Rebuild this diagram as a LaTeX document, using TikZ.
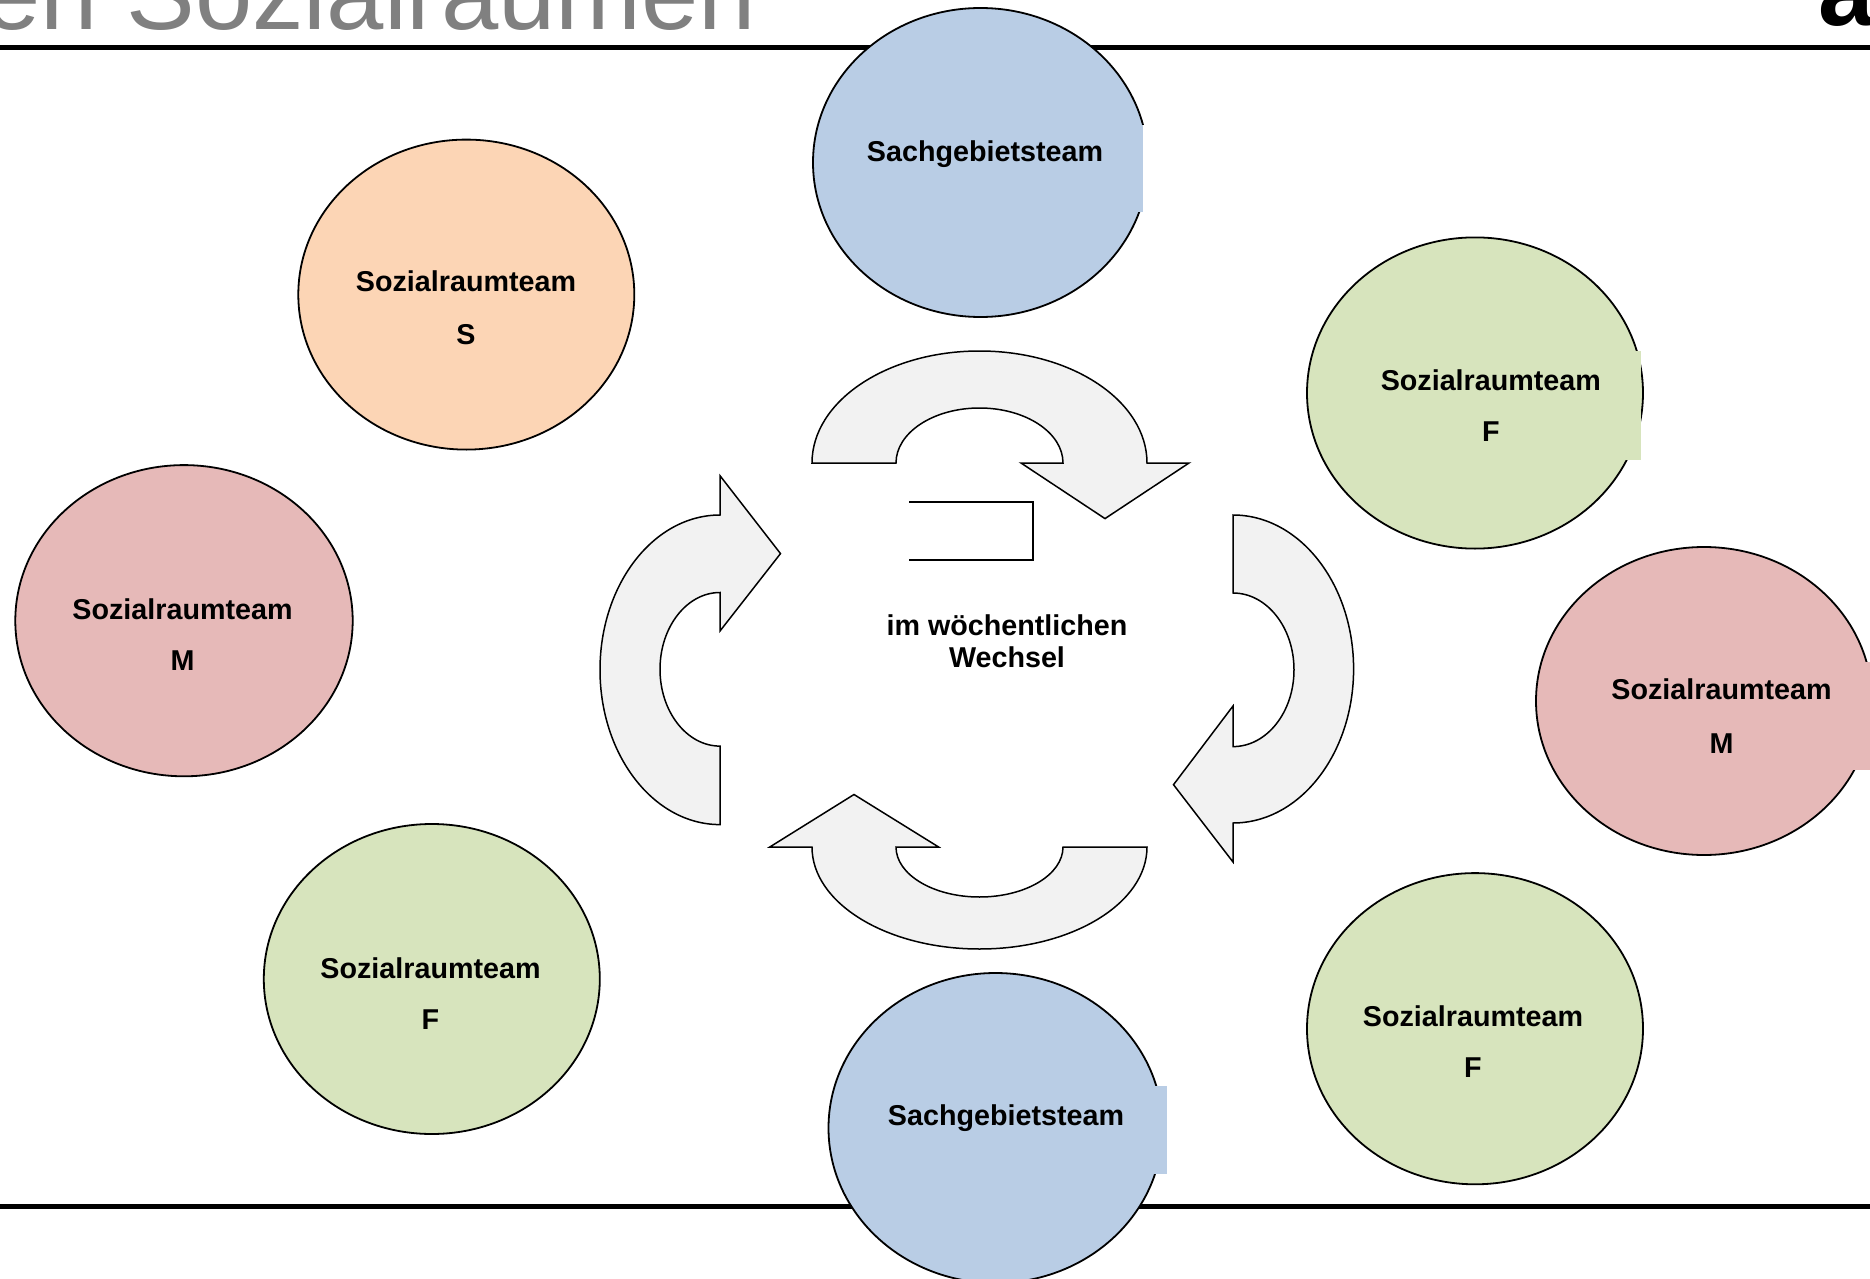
\documentclass[tikz,border=0pt]{standalone}
\usepackage{fontspec}
\setmainfont{Liberation Sans}
\usetikzlibrary{shapes.geometric}
\definecolor{sgblue}{HTML}{B9CDE5}
\definecolor{sorange}{HTML}{FCD5B5}
\definecolor{mpink}{HTML}{E6B9B8}
\definecolor{fgreen}{HTML}{D7E4BD}
\definecolor{arrfill}{HTML}{F2F2F2}
\definecolor{titlegray}{HTML}{808080}
\begin{document}
\begin{tikzpicture}[x=0.5pt,y=-0.5pt,
  team/.style={ellipse, draw=black, line width=0.9pt, minimum width=168pt, minimum height=155pt, inner sep=0pt},
  lbl/.style={font=\fontsize{14.35}{17}\selectfont\bfseries, anchor=base, inner sep=0pt},
  cyc/.style={draw=black, fill=arrfill, line width=0.75pt, line join=miter},
  rulesty/.style={line width=2.5pt}]
\useasboundingbox (0,0) rectangle (1870,1279);
\clip (0,0) rectangle (1870,1279);

% header
\node[anchor=base west, inner sep=0pt, text=titlegray, font=\fontsize{51.5}{60}\selectfont] (title) at (-17,30) {en Sozialräumen};
\node[anchor=base west, inner sep=0pt, font=\fontsize{50}{60}\selectfont\bfseries] (logo) at (1818,26) {a};
\draw[rulesty] (0,47.5) -- (1870,47.5);
\draw[rulesty] (0,1206) -- (1870,1206);

% top Sachgebietsteam
\node[team, fill=sgblue, minimum width=167.5pt, minimum height=154.5pt] (sg1) at (980.5,162.5) {};
\fill[sgblue] (1100,125) rectangle (1143,212);
\fill[white] (1143,125) rectangle (1152,212);
\node[lbl] (sg1t) at (985,162) {Sachgebietsteam};

% Sozialraumteam S
\node[team, fill=sorange] (srS) at (466.3,294.6) {};
\node[lbl] (srSa) at (466,291.5) {Sozialraumteam};
\node[lbl] (srSb) at (466,344) {S};

% left M
\node[team, fill=mpink, minimum width=168.7pt, minimum height=155.6pt] (srML) at (184,620.7) {};
\node[lbl] (srMLa) at (182.5,619.4) {Sozialraumteam};
\node[lbl] (srMLb) at (182.5,670.7) {M};

% left F
\node[team, fill=fgreen] (srFL) at (431.8,979) {};
\node[lbl] (srFLa) at (430.5,978.4) {Sozialraumteam};
\node[lbl] (srFLb) at (430.5,1029.7) {F};

% top-right F
\node[team, fill=fgreen, minimum height=155.6pt] (srFT) at (1475,393) {};
\fill[fgreen] (1600,351) rectangle (1641,460);
\node[lbl] (srFTa) at (1490.8,390.4) {Sozialraumteam};
\node[lbl] (srFTb) at (1490.8,441.7) {F};

% right M
\node[team, fill=mpink, minimum height=154pt] (srMR) at (1704,701) {};
\fill[mpink] (1820,662) rectangle (1870,770);
\node[lbl] (srMRa) at (1721.5,699) {Sozialraumteam};
\node[lbl] (srMRb) at (1721.5,753) {M};

% bottom-right F
\node[team, fill=fgreen, minimum height=155.6pt] (srFB) at (1475,1028.7) {};
\node[lbl] (srFBa) at (1473,1026) {Sozialraumteam};
\node[lbl] (srFBb) at (1473,1077.4) {F};

% bottom Sachgebietsteam
\node[team, fill=sgblue, minimum width=167pt] (sg2) at (995.5,1128) {};
\fill[sgblue] (1120,1086) rectangle (1167,1174);
\node[lbl] (sg2t) at (1006,1125) {Sachgebietsteam};

% circular arrows
% top (head down-right)
\draw[cyc] (812,463) arc[start angle=180, end angle=0, x radius=83.75pt, y radius=56pt]
  -- (1189,463) -- (1105,518.6) -- (1021,463) -- (1063,463)
  arc[start angle=0, end angle=180, x radius=41.75pt, y radius=27.5pt] -- cycle;
% right (head down-left)
\draw[cyc] (1233,515) arc[start angle=90, end angle=-90, x radius=60.3pt, y radius=77pt]
  -- (1233,862) -- (1173.5,784.7) -- (1233,706) -- (1233,746.6)
  arc[start angle=-90, end angle=90, x radius=30.5pt, y radius=38.4pt] -- cycle;
% bottom (head up-left)
\draw[cyc] (1147,847) arc[start angle=0, end angle=-180, x radius=83.75pt, y radius=51pt]
  -- (769.8,847) -- (854,794.5) -- (938.6,847) -- (896,847)
  arc[start angle=180, end angle=360, x radius=41.75pt, y radius=25pt] -- cycle;
% left (head up-right)
\draw[cyc] (720,824.6) arc[start angle=270, end angle=90, x radius=60pt, y radius=77.4pt]
  -- (720,475.7) -- (780.5,553.6) -- (720,631) -- (720,592.5)
  arc[start angle=90, end angle=270, x radius=30pt, y radius=38.4pt] -- cycle;

% open bracket
\draw[line width=1pt] (909,501.7) -- (1033,501.7) -- (1033,560) -- (909,560);

% centre text
\node[lbl] (wech1) at (1007,635) {im wöchentlichen};
\node[lbl] (wech2) at (1007,667) {Wechsel};
\end{tikzpicture}
\end{document}
